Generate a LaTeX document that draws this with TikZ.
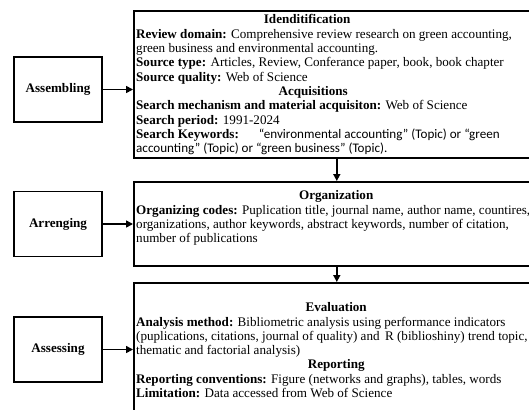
\documentclass[tikz,border=0pt]{standalone}
\usepackage{fontspec}
\setmainfont{Liberation Serif}
\setsansfont{Carlito}
\usetikzlibrary{arrows.meta,positioning}
\newcommand{\txtsize}{\fontsize{13.1}{14.3}\selectfont}
\tikzset{
	stage/.style={draw, line width=1.6pt, minimum width=88pt, minimum height=65pt, font=\txtsize\bfseries},
	panel/.style={draw, line width=1.6pt, anchor=north west, minimum width=406pt},
	body/.style={anchor=north west, align=left, inner sep=0pt},
	link/.style={line width=1.6pt, -{Triangle[length=7pt,width=7pt]}}
}
\newcommand{\hd}[2]{\makebox[#1pt][c]{\textbf{#2}}}
\begin{document}
\begin{tikzpicture}[x=1pt, y=-1pt, font=\txtsize]
	\clip (0,0) rectangle (529,409);
	\node[stage] (asm) at (58, 89.5) {Assembling};
	\node[stage] (arr) at (58, 224)  {Arrenging};
	\node[stage] (ass) at (58, 349.5) {Assessing};
	
	\node[panel, minimum height=147pt] (pan1) at (133, 10)  {};
	\node[panel, minimum height=84pt]  (pan2) at (133, 181) {};
	\node[panel, minimum height=150pt] (pan3) at (133, 282) {};
	
	\draw[link] (asm) -- (asm -| pan1.west);
	\draw[link] (arr) -- (arr -| pan2.west);
	\draw[link] (ass) -- (ass -| pan3.west);
	\draw[link] (pan1.south) -- (pan2.north);
	\draw[link] (pan2.south) -- (pan3.north);
	
	\node[body] (txt1) at (136, 14.5) {\hd{342}{Idenditification}\\
		\textbf{Review domain:} Comprehensive review research on green accounting,\\
		green business and environmental accounting.\\
		\textbf{Source type:} Articles, Review, Conferance paper, book, book chapter\\
		\textbf{Source quality:} Web of Science\\
		\hd{354}{Acquisitions}\\
		\textbf{Search mechanism and material acquisiton:} Web of Science\\
		\textbf{Search period:} 1991-2024\\
		\textbf{Search Keywords:}\hspace{20pt}{\sffamily “environmental accounting” (Topic) or “green}\\
		{\sffamily accounting” (Topic) or “green business” (Topic).}};
	
	\node[body] (txt2) at (136, 190.5) {\hd{400}{Organization}\\
		\textbf{Organizing codes:} Puplication title, journal name, author name, countires,\\
		organizations, author keywords, abstract keywords, number of citation,\\
		number of publications};
	
	\node[body] (txt3) at (136, 302.5) {\hd{400}{Evaluation}\\
		\textbf{Analysis method:} Bibliometric analysis using performance indicators\\
		(puplications, citations, journal of quality) and\, R (biblioshiny) trend topic,\\
		thematic and factorial analysis)\\
		\hd{400}{Reporting}\\
		\textbf{Reporting conventions:} Figure (networks and graphs), tables, words\\
		\textbf{Limitation:} Data accessed from Web of Science};
\end{tikzpicture}
\end{document}
